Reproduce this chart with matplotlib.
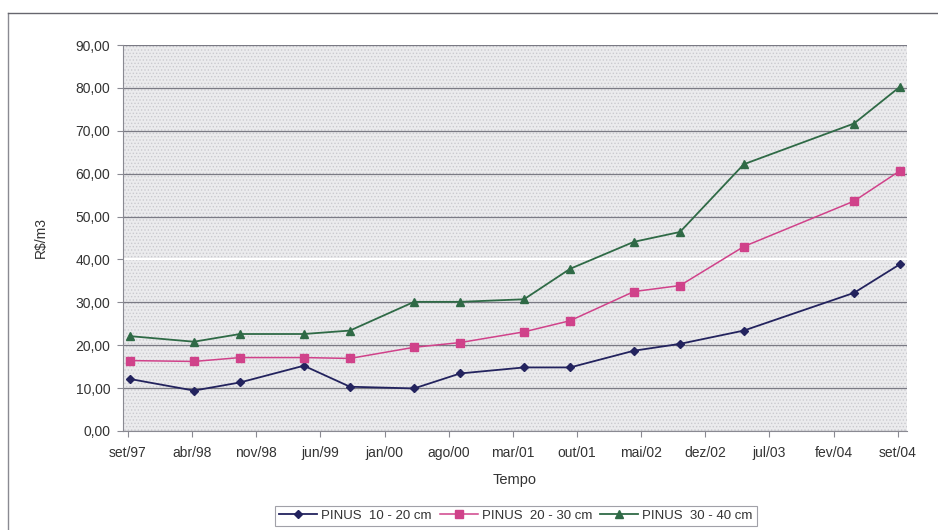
import numpy as np
import pandas as pd
import matplotlib
matplotlib.use('Agg')
import matplotlib.pyplot as plt
from matplotlib.lines import Line2D

plt.rcParams['font.family'] = ['Liberation Sans', 'DejaVu Sans']
plt.rcParams['hatch.linewidth'] = 0.6

# survey dates (Sept / April) and prices in R$/m3
datas = ['1997-09', '1998-04', '1998-09', '1999-04', '1999-09', '2000-04', '2000-09',
         '2001-04', '2001-09', '2002-04', '2002-09', '2003-04', '2004-04', '2004-09']
pinus_10_20 = [12.1, 9.4, 11.3, 15.2, 10.3, 9.9, 13.4, 14.8, 14.8, 18.7, 20.3, 23.4, 32.2, 38.9]
pinus_20_30 = [16.4, 16.2, 17.1, 17.1, 16.9, 19.5, 20.6, 23.1, 25.7, 32.5, 33.9, 43.0, 53.6, 60.7]
pinus_30_40 = [22.1, 20.8, 22.6, 22.6, 23.4, 30.1, 30.1, 30.7, 37.8, 44.1, 46.4, 62.2, 71.7, 80.3]

meses = ['jan', 'fev', 'mar', 'abr', 'mai', 'jun', 'jul', 'ago', 'set', 'out', 'nov', 'dez']

x = pd.to_datetime(datas) + pd.Timedelta(days=7)
ticks = pd.date_range('1997-09-01', '2004-09-01', freq='7MS')

fig = plt.figure(figsize=(9.38, 5.30), dpi=100)
ax = fig.add_axes([0.131, 0.187, 0.836, 0.728])

# dotted background like the spreadsheet pattern fill
ax.set_facecolor('#ebebed')
ax.add_patch(plt.Rectangle((0, 0), 1, 1, transform=ax.transAxes, facecolor='none',
                           edgecolor='#cacacf', hatch='.....', linewidth=0, zorder=0))

ax.plot(x, pinus_10_20, color='#23235e', marker='D', markersize=4.5, lw=1.3,
        label='PINUS  10 - 20 cm', zorder=3)
ax.plot(x, pinus_20_30, color='#d0428a', marker='s', markersize=5.5, lw=1.1,
        label='PINUS  20 - 30 cm', zorder=3)
ax.plot(x, pinus_30_40, color='#2f6a46', marker='^', markersize=6, lw=1.3,
        label='PINUS  30 - 40 cm', zorder=3)

ax.set_ylim(0, 90)
ax.set_yticks(np.arange(0, 91, 10))
ax.set_yticklabels(['%d,00' % v for v in range(0, 91, 10)])
ax.set_xlim(pd.Timestamp('1997-08-15'), pd.Timestamp('2004-10-01'))
ax.set_xticks(ticks)
ax.set_xticklabels(['%s/%02d' % (meses[d.month - 1], d.year % 100) for d in ticks])

ax.yaxis.grid(True, color='#7a7a84', lw=0.9)
for gl, v in zip(ax.get_ygridlines(), range(0, 91, 10)):
    if v == 40:
        gl.set_color('white')
        gl.set_linewidth(1.5)
ax.set_axisbelow(True)

for s in ['top', 'right']:
    ax.spines[s].set_visible(False)
for s in ['left', 'bottom']:
    ax.spines[s].set_color('#8a8a92')
ax.tick_params(axis='both', labelsize=10, colors='#8a8a92', labelcolor='#333333',
               length=4, width=0.8)
ax.tick_params(axis='x', pad=7)
ax.tick_params(axis='y', pad=5)

ax.set_ylabel('R$/m3', fontsize=10, color='#333333', labelpad=20)
ax.set_xlabel('Tempo', fontsize=10.5, color='#333333', labelpad=9)

leg = fig.legend(loc='center', bbox_to_anchor=(0.55, 0.027), ncol=3, fontsize=9.5,
                 frameon=True, fancybox=False, edgecolor='#8a8a92', handlelength=2.9,
                 columnspacing=0.6, handletextpad=0.3, borderpad=0.3)
leg.get_frame().set_linewidth(0.8)
for t in leg.get_texts():
    t.set_color('#333333')

# outer chart frame (left and top edges)
fig.add_artist(Line2D([0.009, 0.009], [0.0, 0.976], color='#8a8a92', lw=1.0))
fig.add_artist(Line2D([0.009, 1.0], [0.976, 0.976], color='#66666e', lw=1.0))

fig.savefig('out.png', dpi=100)
